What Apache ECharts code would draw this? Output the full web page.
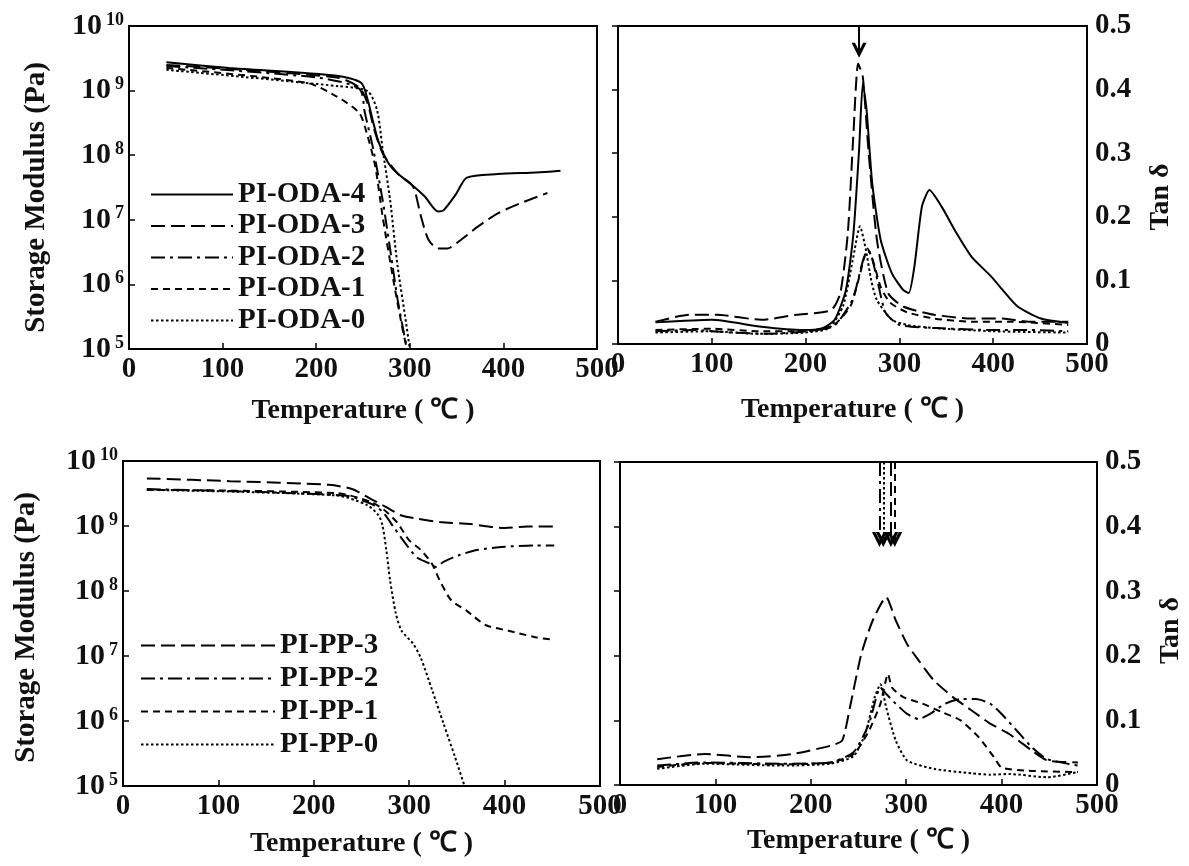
<!DOCTYPE html>
<html>
<head>
<meta charset="utf-8">
<script src="https://cdn.jsdelivr.net/npm/echarts@6/dist/echarts.min.js"></script>
<style>
html,body{margin:0;padding:0;background:#fff;}
#chart{width:1189px;height:866px;}
</style>
</head>
<body>
<div id="chart"></div>
<script>
// ---------- DATA ----------
const xTicks = [0, 100, 200, 300, 400, 500];
const odaNames = ['PI-ODA-4', 'PI-ODA-3', 'PI-ODA-2', 'PI-ODA-1', 'PI-ODA-0'];
const ppNames = ['PI-PP-3', 'PI-PP-2', 'PI-PP-1', 'PI-PP-0'];

// Storage modulus (Pa) vs temperature (°C) – ODA series
const odaE4 = [[40,2.75e9],[107,2.24e9],[222,1.70e9],[248,1.32e9],[255,7.2e8],[261,3.2e8],[267,1.55e8],[277,7.6e7],[287,5.2e7],[302,3.5e7],[316,2.3e7],[330,1.35e7],[336,1.4e7],[349,2.45e7],[361,4.5e7],[394,5.1e7],[435,5.4e7],[461,5.75e7]];
const odaE3 = [[40,2.5e9],[222,1.6e9],[246,1.12e9],[255,6.3e8],[262,2.5e8],[271,1.07e8],[287,5.2e7],[302,3.5e7],[306,2.6e7],[312,1.12e7],[320,4.9e6],[330,3.6e6],[340,3.6e6],[353,4.7e6],[373,7.9e6],[394,1.26e7],[418,1.8e7],[447,2.6e7]];
const odaE2 = [[40,2.4e9],[200,1.6e9],[246,1.07e9],[252,4.5e8],[261,1.23e8],[271,2.0e7],[279,3.5e6],[287,5.8e5],[297,1e5]];
const odaE1 = [[40,2.24e9],[190,1.32e9],[222,8.1e8],[246,4.5e8],[254,2.2e8],[263,6.8e7],[271,1.12e7],[283,1.05e6],[293,1.8e5],[297,1e5]];
const odaE0 = [[40,2.1e9],[224,1.17e9],[255,9.8e8],[265,5.0e8],[271,1.23e8],[279,2.0e7],[287,1.9e6],[295,3.2e5],[300,1e5]];

// Tan delta – ODA series
const odaT4 = [[40,0.034],[100,0.038],[153,0.027],[198,0.022],[218,0.025],[231,0.038],[243,0.085],[251,0.174],[257,0.305],[261,0.41],[265,0.368],[271,0.253],[280,0.164],[292,0.111],[304,0.085],[310,0.080],[316,0.122],[324,0.216],[332,0.242],[345,0.216],[361,0.174],[377,0.137],[398,0.106],[410,0.085],[426,0.059],[451,0.040],[480,0.033]];
const odaT3 = [[40,0.035],[76,0.046],[105,0.046],[153,0.038],[190,0.046],[227,0.053],[237,0.080],[245,0.174],[251,0.331],[256,0.441],[261,0.42],[267,0.305],[276,0.164],[288,0.080],[304,0.059],[337,0.046],[377,0.040],[410,0.040],[438,0.035],[480,0.035]];
const odaT2 = [[40,0.020],[80,0.022],[120,0.018],[160,0.016],[200,0.020],[230,0.028],[250,0.07],[262,0.135],[268,0.145],[275,0.11],[285,0.05],[300,0.03],[340,0.025],[400,0.022],[440,0.022],[480,0.020]];
const odaT1 = [[40,0.022],[100,0.024],[150,0.020],[200,0.020],[230,0.030],[248,0.060],[258,0.110],[266,0.150],[272,0.130],[280,0.090],[290,0.065],[308,0.050],[337,0.040],[377,0.035],[420,0.035],[480,0.030]];
const odaT0 = [[40,0.018],[100,0.020],[150,0.016],[200,0.018],[225,0.025],[240,0.060],[250,0.130],[258,0.185],[264,0.150],[270,0.100],[276,0.069],[292,0.038],[308,0.030],[337,0.025],[400,0.020],[480,0.018]];

// Storage modulus – PP series
const ppE3 = [[25,5.4e9],[112,4.9e9],[216,4.3e9],[240,3.7e9],[260,2.6e9],[276,1.95e9],[292,1.45e9],[308,1.3e9],[332,1.15e9],[364,1.07e9],[400,9.3e8],[424,9.8e8],[452,9.8e8]];
const ppE2 = [[25,3.7e9],[232,2.95e9],[260,2.2e9],[272,1.66e9],[284,9.5e8],[296,5.4e8],[308,3.3e8],[320,2.7e8],[328,2.35e8],[336,2.8e8],[352,3.55e8],[372,4.3e8],[400,4.8e8],[432,5.0e8],[452,5.0e8]];
const ppE1 = [[25,3.6e9],[224,3.2e9],[260,2.35e9],[276,1.66e9],[288,1.1e9],[300,6.0e8],[312,4.3e8],[324,2.6e8],[332,1.45e8],[344,7.2e7],[360,5.0e7],[380,3.0e7],[404,2.45e7],[432,1.95e7],[448,1.8e7]];
const ppE0 = [[25,3.6e9],[224,2.95e9],[256,2.1e9],[268,1.45e9],[272,1.02e9],[276,4.3e8],[280,1.45e8],[286,4.5e7],[292,2.45e7],[304,1.55e7],[312,9.5e6],[324,3.0e6],[336,9.1e5],[348,2.8e5],[358,1e5]];

// Tan delta – PP series
const ppT3 = [[39,0.040],[89,0.048],[137,0.043],[181,0.048],[221,0.061],[233,0.069],[241,0.120],[253,0.203],[265,0.255],[279,0.291],[289,0.255],[301,0.218],[313,0.193],[329,0.162],[349,0.136],[369,0.115],[388,0.095],[408,0.079],[432,0.053],[448,0.038],[480,0.035]];
const ppT2 = [[39,0.030],[89,0.035],[169,0.033],[221,0.035],[245,0.051],[261,0.095],[273,0.151],[279,0.141],[289,0.126],[301,0.110],[313,0.102],[325,0.110],[341,0.126],[357,0.133],[373,0.133],[388,0.126],[400,0.110],[416,0.084],[432,0.058],[448,0.040],[480,0.030]];
const ppT1 = [[39,0.028],[89,0.034],[169,0.032],[221,0.035],[245,0.048],[261,0.084],[273,0.126],[281,0.172],[285,0.151],[297,0.136],[317,0.126],[337,0.113],[357,0.100],[376,0.074],[392,0.043],[400,0.027],[428,0.022],[480,0.020]];
const ppT0 = [[39,0.025],[89,0.033],[169,0.030],[221,0.033],[245,0.045],[257,0.079],[267,0.136],[273,0.156],[279,0.120],[289,0.069],[301,0.038],[329,0.025],[369,0.018],[388,0.016],[408,0.017],[448,0.012],[480,0.020]];

// Arrows marking the tan-delta peaks (temperature, arrow-tip value)
const odaArrowT = [257];
const odaArrowTip = [0.462];
const ppArrowT = [272, 276, 284, 288];
const ppArrowTip = [0.38, 0.38, 0.38, 0.38];

// ---------- STYLE ----------
const FONT = '"Liberation Serif", "Times New Roman", serif';
const dash = {
  solid: 'solid',
  longDash: [14, 6],
  dashDot: [14, 5, 3, 5],
  shortDash: [7, 5],
  dotted: [2.5, 2.5]
};
const odaTypes = [dash.solid, dash.longDash, dash.dashDot, dash.shortDash, dash.dotted];
const ppTypes = [dash.longDash, dash.dashDot, dash.shortDash, dash.dotted];
const CHEVRON = 'path://M0,12 L10,0.5 L20,12 L15.5,12 L10,5.8 L4.5,12 Z';

const grids = [
  {left: 129, top: 26, width: 468, height: 323},
  {left: 618, top: 26, width: 469, height: 318},
  {left: 123, top: 461, width: 477, height: 325},
  {left: 620, top: 462, width: 477, height: 323}
].map(g => Object.assign({show: true, borderColor: '#000', borderWidth: 2, backgroundColor: 'transparent'}, g));

function xAxis(i, gap) {
  return {
    type: 'value', gridIndex: i, min: xTicks[0], max: xTicks[xTicks.length - 1], interval: 100,
    name: 'Temperature ( \u2103 )', nameLocation: 'middle', nameGap: gap,
    nameTextStyle: {fontFamily: FONT, fontWeight: 'bold', fontSize: 28, color: '#111'},
    axisLine: {show: true, lineStyle: {color: '#000', width: 2}},
    axisTick: {show: true, inside: true, length: 6, lineStyle: {color: '#000', width: 1.5}},
    axisLabel: {fontFamily: FONT, fontWeight: 'bold', fontSize: 29, color: '#111', margin: 6},
    splitLine: {show: false}
  };
}
function logAxis(i, gap, pad) {
  return {
    type: 'log', logBase: 10, gridIndex: i, min: 1e5, max: 1e10,
    name: 'Storage Modulus (Pa)', nameLocation: 'middle', nameGap: gap, nameRotate: 90,
    nameTextStyle: {fontFamily: FONT, fontWeight: 'bold', fontSize: 29, color: '#111', padding: [0, pad, 0, 0]},
    axisLine: {show: true, lineStyle: {color: '#000', width: 2}},
    axisTick: {show: true, inside: true, length: 6, lineStyle: {color: '#000', width: 1.5}},
    axisLabel: {
      margin: 5,
      formatter: v => '{b|10}{e|' + Math.round(Math.log10(v)) + '}',
      rich: {
        b: {fontFamily: FONT, fontWeight: 'bold', fontSize: 30, color: '#111', lineHeight: 30},
        e: {fontFamily: FONT, fontWeight: 'bold', fontSize: 18, color: '#111', verticalAlign: 'top', padding: [0, 0, 0, 4]}
      }
    },
    splitLine: {show: false}
  };
}
function tanAxis(i, gap, pad) {
  return {
    type: 'value', gridIndex: i, min: 0, max: 0.5, interval: 0.1, position: 'right',
    name: 'Tan \u03b4', nameLocation: 'middle', nameGap: gap, nameRotate: 90,
    nameTextStyle: {fontFamily: FONT, fontWeight: 'bold', fontSize: 28, color: '#111', padding: [0, pad, 0, 0]},
    axisLine: {show: true, lineStyle: {color: '#000', width: 2}},
    axisTick: {show: true, inside: true, length: 6, lineStyle: {color: '#000', width: 1.5}},
    axisLabel: {fontFamily: FONT, fontWeight: 'bold', fontSize: 29, color: '#111', margin: 8,
      formatter: v => v === 0 ? '0' : v.toFixed(1)},
    splitLine: {show: false}
  };
}

function lineSeries(name, data, type, gi, smooth) {
  return {
    type: 'line', name: name, data: data, xAxisIndex: gi, yAxisIndex: gi,
    symbol: 'none', showSymbol: false, smooth: smooth, silent: true, animation: false,
    lineStyle: {color: '#000', width: 2, type: type}, itemStyle: {color: '#000'}
  };
}
function arrowMark(ts, tips, types, k) {
  return {
    silent: true, animation: false, symbol: ['none', CHEVRON], symbolSize: 15,
    label: {show: false},
    lineStyle: {color: '#000', width: 2, type: types[k]},
    data: [[{coord: [ts[k], 0.5]}, {coord: [ts[k], tips[k]]}]]
  };
}

const series = [];
[odaE4, odaE3, odaE2, odaE1, odaE0].forEach((d, k) => series.push(lineSeries(odaNames[k], d, odaTypes[k], 0, 0.25)));
[odaT4, odaT3, odaT2, odaT1, odaT0].forEach((d, k) => series.push(lineSeries(odaNames[k], d, odaTypes[k], 1, 0.2)));
[ppE3, ppE2, ppE1, ppE0].forEach((d, k) => series.push(lineSeries(ppNames[k], d, ppTypes[k], 2, 0.25)));
[ppT3, ppT2, ppT1, ppT0].forEach((d, k) => series.push(lineSeries(ppNames[k], d, ppTypes[k], 3, 0.2)));

// ODA arrow (solid) on the PI-ODA-3 tan series
series[6].markLine = arrowMark(odaArrowT, odaArrowTip, [dash.solid], 0);
// PP arrows
const ppArrowTypes = [dash.dashDot, dash.dotted, dash.longDash, dash.shortDash];
const ppArrowSeries = [15, 17, 14, 16];
ppArrowT.forEach((t, k) => {
  series[ppArrowSeries[k]].markLine = arrowMark(ppArrowT, ppArrowTip, ppArrowTypes, k);
});

const legendText = {fontFamily: FONT, fontWeight: 'bold', fontSize: 29, color: '#111', lineHeight: 26};

const option = {
  backgroundColor: '#fff',
  animation: false,
  grid: grids,
  xAxis: [xAxis(0, 48), xAxis(1, 52), xAxis(2, 44), xAxis(3, 42)],
  yAxis: [logAxis(0, 78, 20), tanAxis(1, 60, 24), logAxis(2, 82, 8), tanAxis(3, 60, 14)],
  legend: [
    {data: odaNames, orient: 'vertical', left: 150, top: 180, itemWidth: 82, itemHeight: 14,
     itemGap: 2.5, textStyle: legendText, selectedMode: false, padding: 0,
     itemStyle: {opacity: 0}, lineStyle: {width: 2}},
    {data: ppNames, orient: 'vertical', left: 140, top: 631, itemWidth: 134, itemHeight: 14,
     itemGap: 4, textStyle: legendText, selectedMode: false, padding: 0,
     itemStyle: {opacity: 0}, lineStyle: {width: 2}}
  ],
  series: series
};

const chart = echarts.init(document.getElementById('chart'), null, {renderer: 'canvas'});
chart.setOption(option);
</script>
</body>
</html>
